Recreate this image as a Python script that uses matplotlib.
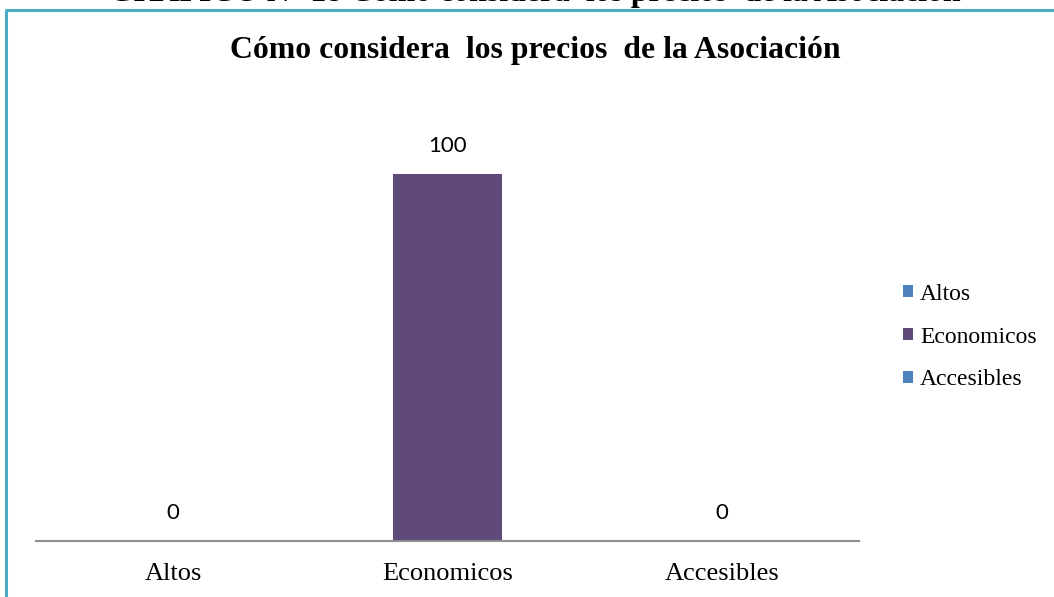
import matplotlib.pyplot as plt
from matplotlib.patches import Patch
from matplotlib.lines import Line2D

# chart data
categories = ['Altos', 'Economicos', 'Accesibles']
values = [0, 100, 0]
bar_colors = ['#4F81BD', '#604A7B', '#4F81BD']

heading = 'GRAFICO N° 18 Cómo considera  los precios  de la Asociación'
title = 'Cómo considera  los precios  de la Asociación'

serif = 'Liberation Serif'

fig = plt.figure(figsize=(10.54, 5.97), dpi=100)
W, H = 1054, 597

# axes placed in pixel terms
left, right, bottom, top = 36, 859, 541, 100.6
ax = fig.add_axes([left / W, (H - bottom) / H, (right - left) / W, (bottom - top) / H])

x = range(len(categories))
bars = ax.bar(x, values, width=0.4, color=bar_colors)
ax.set_xlim(-0.5, len(categories) - 0.5)
ax.set_ylim(0, 120)

for rect, v in zip(bars, values):
    ax.annotate(f'{v}', (rect.get_x() + rect.get_width() / 2, v),
                xytext=(0, 20.5), textcoords='offset points',
                ha='center', va='center', fontsize=16, family='Lato', color='#000000')

ax.set_xticks(list(x))
ax.set_xticklabels(categories, family=serif, fontsize=19)
ax.tick_params(axis='x', length=0, pad=16)
ax.set_yticks([])
for s in ['top', 'right', 'left']:
    ax.spines[s].set_visible(False)
ax.spines['bottom'].set_color('#8E8E8E')
ax.spines['bottom'].set_linewidth(1.5)

# legend on the right
handles = [Patch(facecolor=c, edgecolor='none') for c in bar_colors]
fig.legend(handles, categories, loc='center left', bbox_to_anchor=(903 / W, (H - 337) / H),
           frameon=False, prop={'family': serif, 'size': 17},
           handlelength=0.42, handleheight=0.42, handletextpad=0.3,
           labelspacing=0.92, borderpad=0, borderaxespad=0)

# titles
fig.text(535 / W, (H - 58) / H, title, ha='center', va='baseline',
         family=serif, fontsize=22.9, fontweight='bold')
fig.text(535 / W, (H - 1) / H, heading, ha='center', va='baseline',
         family=serif, fontsize=22.9, fontweight='bold')

# outer frame (left and top edges)
frame_col = '#4BACC6'
fig.add_artist(Line2D([6 / W, 6 / W], [0, (H - 10) / H], color=frame_col, lw=2.2,
                      transform=fig.transFigure, solid_capstyle='butt'))
fig.add_artist(Line2D([5 / W, 1], [(H - 10) / H, (H - 10) / H], color=frame_col, lw=2.2,
                      transform=fig.transFigure, solid_capstyle='butt'))

fig.savefig('out.png', dpi=100)
